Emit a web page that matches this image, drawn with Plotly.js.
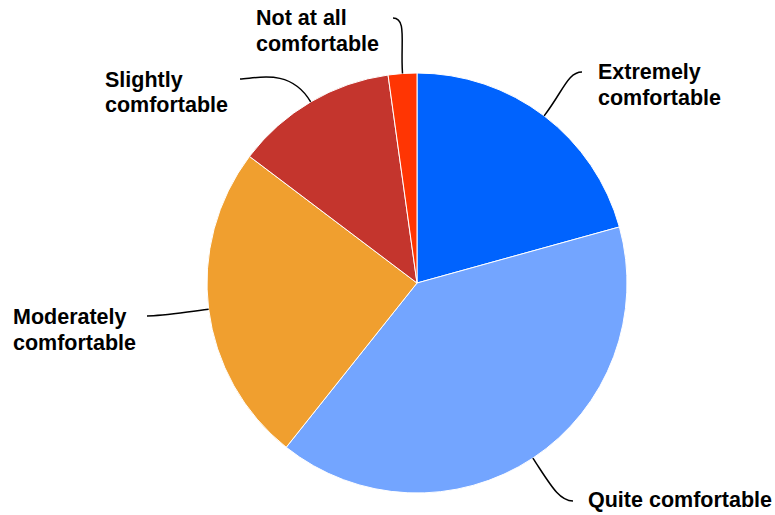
<!DOCTYPE html>
<html>
<head>
<meta charset="utf-8">
<script src="https://cdn.plot.ly/plotly-3.0.1.min.js"></script>
<style>html,body{margin:0;padding:0;background:#fff;}#chart{width:775px;height:515px;}</style>
</head>
<body>
<div id="chart"></div>
<script>
// Data
var categories = ["Extremely comfortable", "Quite comfortable", "Moderately comfortable", "Slightly comfortable", "Not at all comfortable"];
var labelLines = [["Extremely", "comfortable"], ["Quite comfortable"], ["Moderately", "comfortable"], ["Slightly", "comfortable"], ["Not at all", "comfortable"]];
var values = [20.7, 40.0, 24.6, 12.5, 2.2];
var colors = ["#0063FE", "#73A5FF", "#F09F2F", "#C4352D", "#FF3503"];

// Layout (pixels)
var W = 775, H = 515;
var cx = 417, cy = 283, R = 210;
var lineGap = 25.5;
// label block left x, first-line center y; leader end point and side
var labelPos = [
  {x: 596, y: 72, ex: 582, ey: 72, side: 1},
  {x: 586, y: 500, ex: 573, ey: 501, side: 1},
  {x: 11, y: 317, ex: 147, ey: 316, side: -1},
  {x: 103, y: 80, ex: 240, ey: 79, side: -1},
  {x: 254, y: 18, ex: 393, ey: 18, side: -1}
];

var total = values.reduce(function(a, b) { return a + b; }, 0);
var shapes = [], annotations = [];
var cum = 0;
function px(x) { return (x / W).toFixed(5); }
function py(y) { return (1 - y / H).toFixed(5); }
for (var i = 0; i < values.length; i++) {
  var mid = (cum + values[i] / 2) / total * 2 * Math.PI;
  cum += values[i];
  var dx = Math.sin(mid), dy = -Math.cos(mid);
  var sx = cx + R * dx, sy = cy + R * dy;
  var L = labelPos[i];
  var dist = Math.hypot(L.ex - sx, L.ey - sy);
  var c1x = sx + dx * dist * 0.55, c1y = sy + dy * dist * 0.55;
  var c2x = L.ex - L.side * Math.min(14, dist * 0.3), c2y = L.ey;
  shapes.push({
    type: "path", xref: "paper", yref: "paper",
    path: "M" + px(sx) + "," + py(sy) + " C" + px(c1x) + "," + py(c1y) + " " + px(c2x) + "," + py(c2y) + " " + px(L.ex) + "," + py(L.ey),
    line: {color: "#000000", width: 1.5}
  });
  for (var j = 0; j < labelLines[i].length; j++) {
    annotations.push({
      xref: "paper", yref: "paper", x: L.x / W, y: 1 - (L.y + j * lineGap) / H,
      xanchor: "left", yanchor: "middle", align: "left", showarrow: false,
      text: "<b>" + labelLines[i][j] + "</b>",
      font: {family: "Liberation Sans, Arial, sans-serif", size: 21.5, color: "#000000"}
    });
  }
}

var data = [{
  type: "pie",
  labels: categories,
  values: values,
  sort: false,
  direction: "clockwise",
  rotation: 0,
  textinfo: "none",
  hoverinfo: "label+percent",
  marker: {colors: colors, line: {color: "#ffffff", width: 1}},
  domain: {x: [(cx - R) / W, (cx + R) / W], y: [1 - (cy + R) / H, 1 - (cy - R) / H]}
}];

var layout = {
  width: W, height: H,
  margin: {l: 0, r: 0, t: 0, b: 0},
  paper_bgcolor: "#ffffff",
  showlegend: false,
  shapes: shapes,
  annotations: annotations
};

Plotly.newPlot("chart", data, layout, {displayModeBar: false, staticPlot: true});
</script>
</body>
</html>
